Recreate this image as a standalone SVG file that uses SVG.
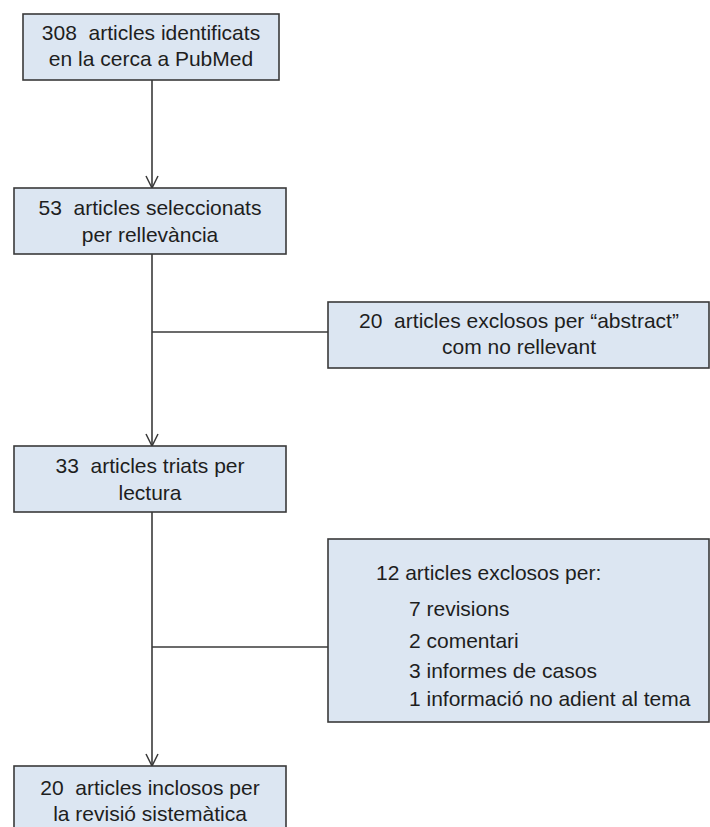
<svg xmlns="http://www.w3.org/2000/svg" width="710" height="827" viewBox="0 0 710 827">
<defs>
<style>
.box{fill:#dce6f2;stroke:#3a3a3a;stroke-width:1.6}
.t{font-family:"Liberation Sans",Arial,sans-serif;font-size:21px;fill:#1e1e1e;white-space:pre}
.c{text-anchor:middle}
.ln{stroke:#3a3a3a;stroke-width:1.6;fill:none}
</style>
<marker id="arr" markerWidth="14" markerHeight="14" viewBox="0 0 14 14" refX="13" refY="7" orient="auto" markerUnits="userSpaceOnUse">
<polyline points="1,1 13,7 1,13" fill="none" stroke="#3a3a3a" stroke-width="1.5"/>
</marker>
</defs>
<rect width="710" height="827" fill="#ffffff"/>
<g id="connectors">
<line class="ln" x1="152" y1="80" x2="152" y2="188" marker-end="url(#arr)"/>
<line class="ln" x1="152" y1="254" x2="152" y2="446" marker-end="url(#arr)"/>
<line class="ln" x1="152" y1="332" x2="328" y2="332"/>
<line class="ln" x1="152" y1="512" x2="152" y2="766" marker-end="url(#arr)"/>
<line class="ln" x1="152" y1="647" x2="328" y2="647"/>
</g>
<g id="n1">
<rect class="box" x="23" y="14" width="256" height="66"/>
<text class="t c" x="151" y="40" xml:space="preserve">308  articles identificats</text>
<text class="t c" x="151" y="66">en la cerca a PubMed</text>
</g>
<g id="n2">
<rect class="box" x="14" y="188" width="272" height="66"/>
<text class="t c" x="150" y="215" xml:space="preserve">53  articles seleccionats</text>
<text class="t c" x="150" y="242">per rellevància</text>
</g>
<g id="n3">
<rect class="box" x="328" y="302" width="381" height="66"/>
<text class="t c" x="519" y="328" xml:space="preserve">20  articles exclosos per “abstract”</text>
<text class="t c" x="519" y="354">com no rellevant</text>
</g>
<g id="n4">
<rect class="box" x="14" y="446" width="272" height="66"/>
<text class="t c" x="150" y="473" xml:space="preserve">33  articles triats per</text>
<text class="t c" x="150" y="500">lectura</text>
</g>
<g id="n5">
<rect class="box" x="328" y="539" width="381" height="183"/>
<text class="t" x="376" y="580">12 articles exclosos per:</text>
<text class="t" x="409" y="616">7 revisions</text>
<text class="t" x="409" y="648">2 comentari</text>
<text class="t" x="409" y="678">3 informes de casos</text>
<text class="t" x="409" y="706">1 informació no adient al tema</text>
</g>
<g id="n6">
<rect class="box" x="14" y="766" width="272" height="70"/>
<text class="t c" x="150" y="795" xml:space="preserve">20  articles inclosos per</text>
<text class="t c" x="150" y="821">la revisió sistemàtica</text>
</g>
</svg>
